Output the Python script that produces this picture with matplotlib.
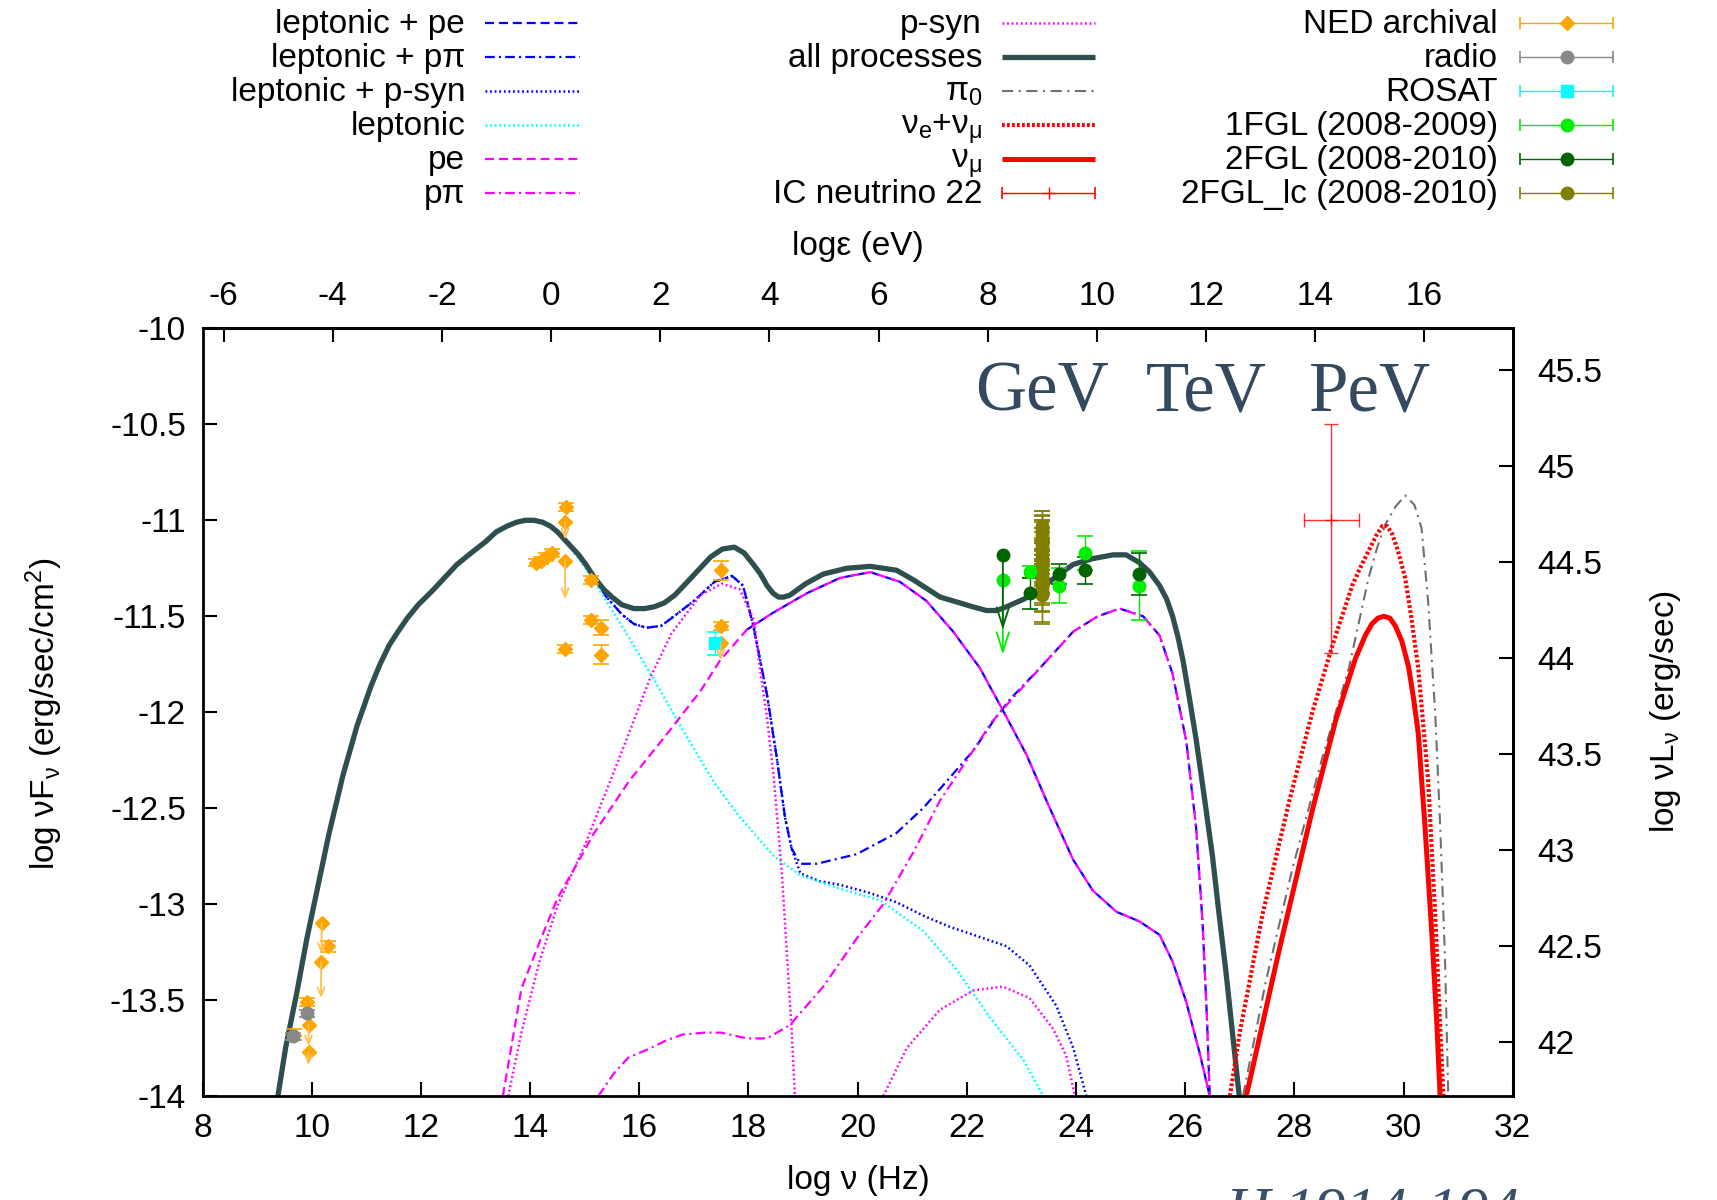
import matplotlib
matplotlib.use("Agg")
import matplotlib.pyplot as plt
from matplotlib.ticker import FormatStrFormatter

plt.rcParams['font.family'] = ['Liberation Sans', 'DejaVu Sans']
plt.rcParams['mathtext.fontset'] = 'custom'
plt.rcParams['mathtext.rm'] = 'Liberation Sans'
plt.rcParams['mathtext.it'] = 'Liberation Sans:italic'
plt.rcParams['lines.scale_dashes'] = False
plt.rcParams['axes.unicode_minus'] = False

LOG_H_EV = 14.383     # log nu - log eps(eV)
LUM_OFF = 55.717      # log nuLnu - log nuFnu
FS = 24

# ---------------- model curves: log nu (Hz), log nuFnu (erg/s/cm2)
allproc_nu = [9.38, 9.52, 9.72, 9.91, 10.11, 10.31, 10.57, 10.83, 11.09, 11.25, 11.42, 11.58,
              11.75, 11.95, 12.2, 12.43, 12.66, 12.92, 13.19, 13.38, 13.58, 13.75, 13.91, 14.07,
              14.23, 14.37, 14.5, 14.63, 14.76, 14.89, 15.02, 15.18, 15.35, 15.5, 15.68, 15.9,
              16.1, 16.28, 16.46, 16.65, 16.85, 17.08, 17.31, 17.52, 17.74, 17.92, 18.09, 18.22,
              18.34, 18.45, 18.55, 18.65, 18.76, 19.05, 19.37, 19.8, 20.23, 20.71, 21.02, 21.51,
              21.87, 22.1, 22.36, 22.55, 22.73, 23.05, 23.34, 23.65, 23.95, 24.3, 24.68, 24.92,
              25.16, 25.35, 25.53, 25.66, 25.77, 25.87, 25.96, 26.08, 26.2, 26.35, 26.5, 26.62,
              26.75, 26.87, 26.99]
allproc_f = [-14.0, -13.75, -13.47, -13.18, -12.91, -12.64, -12.33, -12.07, -11.86, -11.75, -11.65, -11.58,
             -11.51, -11.44, -11.37, -11.30, -11.23, -11.17, -11.11, -11.06, -11.03, -11.01, -11.0, -11.0,
             -11.01, -11.03, -11.06, -11.10, -11.14, -11.18, -11.23, -11.30, -11.36, -11.40, -11.44, -11.46,
             -11.46, -11.45, -11.43, -11.39, -11.33, -11.26, -11.19, -11.15, -11.14, -11.17, -11.23, -11.28,
             -11.34, -11.38, -11.40, -11.40, -11.39, -11.33, -11.28, -11.25, -11.24, -11.26, -11.31, -11.40,
             -11.43, -11.45, -11.47, -11.47, -11.45, -11.41, -11.36, -11.29, -11.23, -11.20, -11.18, -11.18,
             -11.22, -11.27, -11.34, -11.41, -11.50, -11.61, -11.73, -11.93, -12.14, -12.44, -12.75, -13.05,
             -13.36, -13.68, -14.0]

lep_ppi_nu = [14.9, 15.15, 15.4, 15.68, 15.9, 16.13, 16.4, 16.59, 17.0, 17.38, 17.7, 17.9,
              18.09, 18.34, 18.52, 18.67, 18.79, 18.95, 19.25, 19.98, 20.71, 21.2, 21.63,
              22.12, 22.5, 22.8, 23.34, 23.95, 24.4, 24.8, 25.23, 25.53, 25.77, 26.02,
              26.2, 26.32, 26.4, 26.45]
lep_ppi_f = [-11.19, -11.29, -11.40, -11.49, -11.54, -11.56, -11.55, -11.51, -11.42, -11.32, -11.29, -11.34,
             -11.55, -11.91, -12.24, -12.55, -12.71, -12.79, -12.79, -12.74, -12.63, -12.50, -12.36,
             -12.20, -12.04, -11.93, -11.77, -11.58, -11.50, -11.46, -11.50, -11.60, -11.80, -12.15,
             -12.6, -13.1, -13.6, -14.0]

lep_psyn_nu = [14.9, 15.15, 15.4, 15.68, 15.9, 16.13, 16.4, 16.59, 17.0, 17.38, 17.7, 17.9,
               18.09, 18.34, 18.52, 18.67, 18.79, 18.95, 19.3, 19.68, 20.2, 20.71, 21.2, 21.7,
               22.12, 22.73, 23.15, 23.64, 23.95, 24.19]
lep_psyn_f = [-11.19, -11.29, -11.40, -11.49, -11.54, -11.56, -11.55, -11.51, -11.42, -11.32, -11.29, -11.34,
              -11.55, -11.91, -12.24, -12.55, -12.71, -12.84, -12.88, -12.90, -12.94, -12.99, -13.06, -13.12,
              -13.16, -13.22, -13.32, -13.53, -13.75, -14.0]

lep_nu = [14.76, 15.02, 15.35, 15.81, 16.33, 16.79, 17.38, 17.85, 18.16, 18.46, 18.95, 19.68,
          20.41, 21.2, 21.81, 22.42, 23.03, 23.40]
lep_f = [-11.15, -11.25, -11.40, -11.61, -11.86, -12.09, -12.37, -12.55, -12.65, -12.75, -12.85, -12.92,
         -12.98, -13.14, -13.34, -13.59, -13.81, -14.0]

pe_nu = [13.5, 13.84, 14.17, 14.5, 14.82, 15.15, 15.81, 16.46, 17.12, 17.48, 17.97, 18.46,
         19.07, 19.68, 20.23, 20.77, 21.26, 21.75, 22.24, 22.66, 23.09, 23.52, 23.95, 24.31,
         24.74, 25.16, 25.53, 25.77, 26.02, 26.26, 26.45]
pe_f = [-14.0, -13.44, -13.20, -12.97, -12.81, -12.64, -12.36, -12.13, -11.89, -11.73, -11.57, -11.48,
        -11.38, -11.30, -11.27, -11.32, -11.42, -11.58, -11.77, -11.99, -12.22, -12.50, -12.77, -12.93,
        -13.04, -13.09, -13.16, -13.30, -13.51, -13.77, -14.0]

lep_pe_nu = pe_nu[10:]
lep_pe_f = pe_f[10:]

ppi_nu = [15.25, 15.54, 15.8, 16.13, 16.5, 16.79, 17.2, 17.5, 17.97, 18.34, 18.76, 19.37,
          19.98, 20.47, 21.02, 21.51, 22.0, 22.46, 22.8, 23.34, 23.95, 24.4, 24.8, 25.23,
          25.53, 25.77, 26.02, 26.2, 26.32, 26.4, 26.45]
ppi_f = [-14.0, -13.88, -13.80, -13.76, -13.71, -13.68, -13.67, -13.67, -13.70, -13.70, -13.63, -13.43,
         -13.18, -13.0, -12.73, -12.46, -12.25, -12.05, -11.94, -11.77, -11.58, -11.50, -11.46, -11.50,
         -11.60, -11.80, -12.15, -12.6, -13.1, -13.6, -14.0]

psyn_nu = [13.6, 13.84, 14.17, 14.5, 15.02, 15.48, 15.81, 16.2, 16.59, 17.12, 17.51, 17.84,
           18.1, 18.2, 18.34, 18.46, 18.55, 18.61, 18.70, 18.79, 18.85]
psyn_f = [-14.0, -13.67, -13.30, -13.01, -12.68, -12.35, -12.11, -11.82, -11.59, -11.39, -11.33, -11.36,
          -11.52, -11.75, -12.03, -12.33, -12.63, -12.83, -13.24, -13.65, -14.0]
psyn2_nu = [20.47, 20.9, 21.51, 22.12, 22.66, 23.15, 23.58, 23.82, 23.98]
psyn2_f = [-14.0, -13.75, -13.55, -13.45, -13.43, -13.49, -13.65, -13.79, -14.0]

pi0_nu = [27.06, 27.48, 27.97, 28.52, 29.0, 29.36, 29.52, 29.67, 29.85, 30.03, 30.2, 30.33,
          30.45, 30.58, 30.67, 30.76, 30.82]
pi0_f = [-14.0, -13.40, -12.81, -12.23, -11.77, -11.30, -11.14, -11.02, -10.93, -10.87, -10.92, -11.04,
         -11.42, -12.0, -12.58, -13.28, -14.0]

nu_all_nu = [26.82, 27.0, 27.42, 27.91, 28.33, 28.70, 29.06, 29.22, 29.36, 29.5, 29.61, 29.7,
             29.79, 29.9, 30.03, 30.15, 30.27, 30.45, 30.58, 30.67, 30.73]
nu_all_f = [-14.0, -13.67, -13.05, -12.46, -12.0, -11.65, -11.34, -11.24, -11.16, -11.08, -11.03, -11.03,
            -11.07, -11.16, -11.30, -11.52, -11.77, -12.35, -13.05, -13.63, -14.0]

numu_nu = [27.12, 27.73, 28.33, 28.76, 28.95, 29.12, 29.3, 29.42, 29.53, 29.64, 29.75, 29.85,
           29.97, 30.09, 30.18, 30.27, 30.39, 30.52, 30.61, 30.67]
numu_f = [-14.0, -13.23, -12.51, -12.04, -11.87, -11.72, -11.60, -11.54, -11.51, -11.50, -11.51, -11.55,
          -11.63, -11.76, -11.92, -12.11, -12.58, -13.16, -13.62, -14.0]

# ---------------- IceCube event
ic_nu, ic_f = 28.68, -11.0
ic_xerr = 0.5
ic_err_lo, ic_err_hi = 0.69, 0.5

# ---------------- data points
ned_nu = [9.67, 9.91, 10.30, 14.10, 14.20, 14.30, 14.40, 14.66, 15.12, 15.12, 15.30, 14.63, 15.30, 17.49, 17.49]
ned_f = [-13.68, -13.51, -13.22, -11.22, -11.21, -11.19, -11.17, -10.93, -11.31, -11.52, -11.56, -11.67, -11.70, -11.26, -11.55]
ned_err = [0.03, 0.02, 0.03, 0.02, 0.02, 0.02, 0.02, 0.02, 0.02, 0.02, 0.04, 0.02, 0.05, 0.05, 0.02]
ned_ul_nu = [14.64, 14.64, 10.18, 10.17, 9.94, 9.94, 17.49]
ned_ul_f = [-11.01, -11.21, -13.10, -13.30, -13.63, -13.77, -11.64]
ned_ul_end = [-11.10, -11.41, -13.26, -13.49, -13.74, -13.84, -11.73]

radio_nu = [9.66, 9.91]
radio_f = [-13.69, -13.57]
radio_err = [0.02, 0.02]

rosat_nu = [17.39]
rosat_f = [-11.64]
rosat_err = [0.06]

fgl1_nu = [23.15, 23.69, 24.16, 25.15]
fgl1_f = [-11.27, -11.34, -11.17, -11.34]
fgl1_err = [0.03, 0.09, 0.09, 0.18]
fgl1_ul_nu, fgl1_ul_f, fgl1_ul_end = [22.66], [-11.31], [-11.70]

fgl2_nu = [23.15, 23.69, 24.16, 25.15]
fgl2_f = [-11.38, -11.28, -11.26, -11.28]
fgl2_err = [0.08, 0.05, 0.07, 0.11]
fgl2_ul_nu, fgl2_ul_f, fgl2_ul_end = [22.66], [-11.18], [-11.57]

lc_f = [-11.03, -11.05, -11.07, -11.09, -11.10, -11.12, -11.13, -11.15, -11.16, -11.18, -11.20,
        -11.21, -11.23, -11.25, -11.27, -11.29, -11.31, -11.33, -11.35, -11.37, -11.39]
lc_err = [0.08, 0.10, 0.09, 0.12, 0.10, 0.11, 0.13, 0.09, 0.12, 0.14, 0.10,
          0.12, 0.11, 0.13, 0.12, 0.14, 0.13, 0.15, 0.12, 0.16, 0.15]
lc_nu = [23.37] * len(lc_f)

energy_labels = ['GeV', 'TeV', 'PeV']
energy_log_ev = [9, 12, 15]

# ---------------- styles
BLUE, CYAN, MAG = '#0000ff', '#00ffff', '#ff00ff'
DSG, GRAY, RED = '#2f4f4f', '#707070', '#ff0000'
ORANGE, RADIO, LGREEN, DGREEN, OLIVE = '#ffa500', '#888888', '#00ee00', '#006400', '#808000'
DASHED = (0, (6.5, 3.5))
DASHDOT = (0, (7, 3, 1.5, 3))
DOTTED = (0, (1.3, 2.0))
RDOT = (0, (2.0, 1.6))
PI0DD = (0, (8, 4, 1.5, 4))

st_lep_pe = dict(color=BLUE, lw=1.6, ls=DASHED)
st_lep_ppi = dict(color=BLUE, lw=1.6, ls=DASHDOT)
st_lep_psyn = dict(color=BLUE, lw=1.8, ls=DOTTED)
st_lep = dict(color=CYAN, lw=1.8, ls=DOTTED)
st_pe = dict(color=MAG, lw=1.6, ls=DASHED)
st_ppi = dict(color=MAG, lw=1.6, ls=DASHDOT)
st_psyn = dict(color=MAG, lw=1.8, ls=DOTTED)
st_all = dict(color=DSG, lw=3.8, ls='-', solid_capstyle='butt', solid_joinstyle='round')
st_pi0 = dict(color=GRAY, lw=1.5, ls=PI0DD)
st_nuall = dict(color=RED, lw=3.0, ls=RDOT)
st_numu = dict(color=RED, lw=3.6, ls='-', solid_capstyle='butt', solid_joinstyle='round')

fig = plt.figure(figsize=(17.17, 12), dpi=100)
ax = fig.add_axes([0.118, 0.0867, 0.763, 0.6396])

ax.plot(lep_pe_nu, lep_pe_f, **st_lep_pe)
ax.plot(lep_ppi_nu, lep_ppi_f, **st_lep_ppi)
ax.plot(lep_psyn_nu, lep_psyn_f, **st_lep_psyn)
ax.plot(lep_nu, lep_f, **st_lep)
ax.plot(pe_nu, pe_f, **st_pe)
ax.plot(ppi_nu, ppi_f, **st_ppi)
ax.plot(psyn_nu, psyn_f, **st_psyn)
ax.plot(psyn2_nu, psyn2_f, **st_psyn)
ax.plot(allproc_nu, allproc_f, **st_all)
ax.plot(pi0_nu, pi0_f, **st_pi0)
ax.plot(nu_all_nu, nu_all_f, **st_nuall)
ax.plot(numu_nu, numu_f, **st_numu)

ax.errorbar([ic_nu], [ic_f], xerr=[[ic_xerr], [ic_xerr]], yerr=[[ic_err_lo], [ic_err_hi]],
            fmt='+', color=RED, ms=9, elinewidth=1.0, capsize=5, capthick=1.0, alpha=0.8)


def upper_limits(xs, ys, ends, color, hl, hw, lw):
    for x, y, e in zip(xs, ys, ends):
        ax.annotate('', xy=(x, e), xytext=(x, y),
                    arrowprops=dict(arrowstyle='->,head_length=%g,head_width=%g' % (hl, hw),
                                    color=color, lw=lw, shrinkA=0, shrinkB=0))


upper_limits(ned_ul_nu, ned_ul_f, ned_ul_end, '#ffc04d', 0.6, 0.25, 1.3)
ax.plot(ned_ul_nu, ned_ul_f, 'D', color=ORANGE, ms=7)
ax.errorbar(ned_nu, ned_f, yerr=ned_err, fmt='D', color=ORANGE, ms=7,
            elinewidth=1.0, capsize=6, capthick=1.2)
ax.errorbar(radio_nu, radio_f, yerr=radio_err, fmt='o', color=RADIO, ms=9,
            elinewidth=1.0, capsize=6, capthick=1.2)
ax.errorbar(rosat_nu, rosat_f, yerr=rosat_err, fmt='s', color=CYAN, ms=9,
            elinewidth=1.0, capsize=6, capthick=1.2)
upper_limits(fgl1_ul_nu, fgl1_ul_f, fgl1_ul_end, LGREEN, 1.4, 0.45, 1.3)
upper_limits(fgl2_ul_nu, fgl2_ul_f, fgl2_ul_end, DGREEN, 1.4, 0.45, 1.3)
ax.plot(fgl1_ul_nu, fgl1_ul_f, 'o', color=LGREEN, ms=9)
ax.plot(fgl2_ul_nu, fgl2_ul_f, 'o', color=DGREEN, ms=9)
ax.errorbar(lc_nu, lc_f, yerr=lc_err, fmt='o', color=OLIVE, ms=9,
            elinewidth=1.0, capsize=6, capthick=1.2)
ax.errorbar(fgl1_nu, fgl1_f, yerr=fgl1_err, fmt='o', color=LGREEN, ms=9,
            elinewidth=1.0, capsize=6, capthick=1.2)
ax.errorbar(fgl2_nu, fgl2_f, yerr=fgl2_err, fmt='o', color=DGREEN, ms=9,
            elinewidth=1.0, capsize=6, capthick=1.2)

for lab, lev in zip(energy_labels, energy_log_ev):
    ax.text(lev + LOG_H_EV, -10.43, lab, ha='center', va='baseline',
            family='Liberation Serif', fontsize=51, color='#34495e')

ax.set_xlim(8, 32)
ax.set_ylim(-14, -10)
ax.set_xticks(range(8, 33, 2))
ax.set_yticks([-14 + 0.5 * i for i in range(9)])
ax.yaxis.set_major_formatter(FormatStrFormatter('%g'))
ax.tick_params(direction='in', length=10, width=1.5, labelsize=FS, top=False, right=False)
ax.tick_params(axis='x', pad=12)
ax.tick_params(axis='y', pad=12)
for sp in ax.spines.values():
    sp.set_linewidth(2)

secx = ax.secondary_xaxis('top', functions=(lambda x: x - LOG_H_EV, lambda x: x + LOG_H_EV))
secx.set_xticks(range(-6, 17, 2))
secx.tick_params(direction='in', length=10, width=1.5, labelsize=FS, pad=12)
secy = ax.secondary_yaxis('right', functions=(lambda y: y + LUM_OFF, lambda y: y - LUM_OFF))
secy.set_yticks([42 + 0.5 * i for i in range(8)])
secy.yaxis.set_major_formatter(FormatStrFormatter('%g'))
secy.tick_params(direction='in', length=10, width=1.5, labelsize=FS, pad=18)
for sp in list(secx.spines.values()) + list(secy.spines.values()):
    sp.set_linewidth(2)

W, H = 1717.0, 1200.0
fig.text(44 / W, 1 - 714 / H, 'log νF$_\\mathregular{ν}$ (erg/sec/cm$^\\mathregular{2}$)',
         rotation=90, ha='center', va='center', fontsize=FS)
fig.text(1665 / W, 1 - 712 / H, 'log νL$_\\mathregular{ν}$ (erg/sec)',
         rotation=90, ha='center', va='center', fontsize=FS)
fig.text(858 / W, 1 - 1180 / H, 'log ν (Hz)', ha='center', va='center', fontsize=FS)
fig.text(858 / W, 1 - 246 / H, 'logε (eV)', ha='center', va='center', fontsize=FS)
fig.text(1226 / W, 1 - 1186 / H, 'H 1914-194', ha='left', va='top', fontsize=44,
         family='Liberation Serif', style='italic', color='#3b5068')

# ---------------- legend drawn in pixel coordinates
lg = fig.add_axes([0, 0, 1, 1], zorder=5)
lg.set_xlim(0, W)
lg.set_ylim(H, 0)
lg.axis('off')
lg.patch.set_visible(False)

rows = [23, 57, 91, 125, 159, 193]
col_text = [465, 982, 1498]
col_line = [(485, 580), (1002, 1095), (1520, 1613)]

line_entries = [
    (0, 'leptonic + pe', st_lep_pe), (0, 'leptonic + pπ', st_lep_ppi),
    (0, 'leptonic + p-syn', st_lep_psyn), (0, 'leptonic', st_lep),
    (0, 'pe', st_pe), (0, 'pπ', st_ppi),
    (1, 'p-syn', st_psyn), (1, 'all processes', st_all),
    (1, 'π$_\\mathregular{0}$', st_pi0), (1, 'ν$_\\mathregular{e}$+ν$_\\mathregular{μ}$', st_nuall),
    (1, 'ν$_\\mathregular{μ}$', st_numu),
]
point_entries = [
    (1, 'IC neutrino 22', '+', RED, 9),
    (2, 'NED archival', 'D', ORANGE, 7), (2, 'radio', 'o', RADIO, 9),
    (2, 'ROSAT', 's', CYAN, 9), (2, '1FGL (2008-2009)', 'o', LGREEN, 9),
    (2, '2FGL (2008-2010)', 'o', DGREEN, 9), (2, '2FGL_lc (2008-2010)', 'o', OLIVE, 9),
]
counts = [0, 0, 0]
for col, label, st in line_entries:
    y = rows[counts[col]]
    counts[col] += 1
    lg.text(col_text[col], y + 10, label, ha='right', va='baseline', fontsize=FS)
    lg.plot(col_line[col], [y, y], **st)
for col, label, mk, c, ms in point_entries:
    y = rows[counts[col]]
    counts[col] += 1
    lg.text(col_text[col], y + 10, label, ha='right', va='baseline', fontsize=FS)
    x0, x1 = col_line[col]
    lg.errorbar([(x0 + x1) / 2], [y], xerr=[(x1 - x0) / 2], fmt=mk, color=c, ms=ms,
                elinewidth=1.0, capsize=4.5, capthick=1.2)

fig.savefig('out.png', dpi=100)
